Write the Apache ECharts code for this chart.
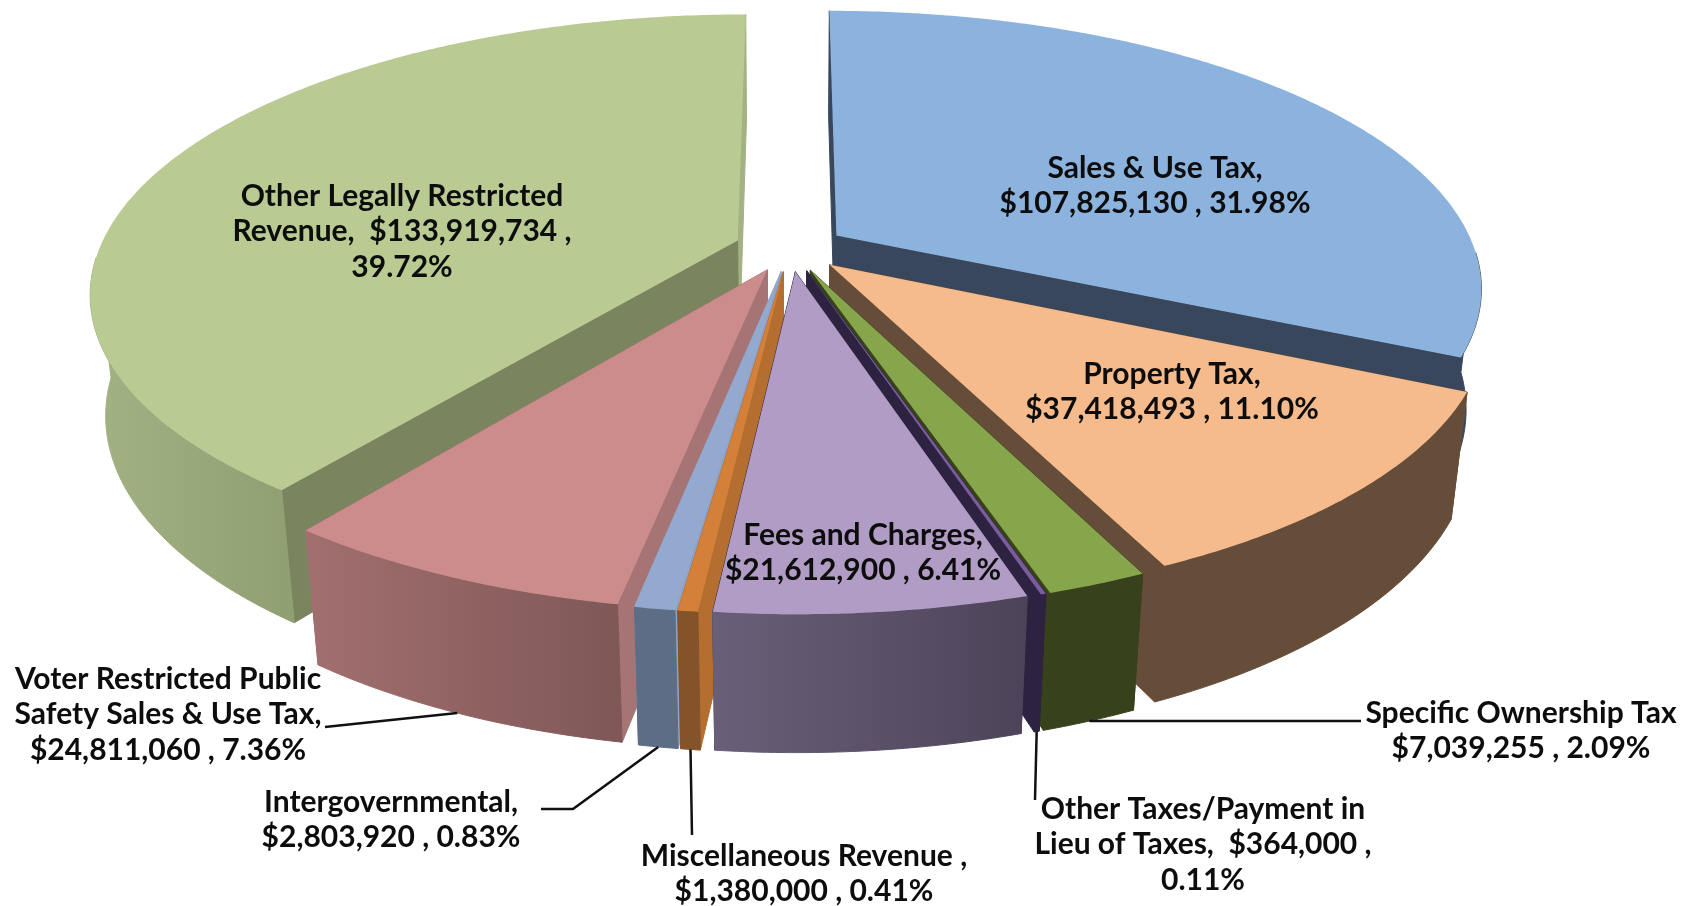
<!DOCTYPE html>
<html><head><meta charset="utf-8">
<style>html,body{margin:0;padding:0;background:#fff}#c{width:1696px;height:906px}</style>
<script src="https://cdn.jsdelivr.net/npm/echarts@6/dist/echarts.min.js"></script>
</head><body><div id="c"></div>
<script>
// ---- data ----
const categories = ['Sales & Use Tax','Property Tax','Specific Ownership Tax','Other Taxes/Payment in Lieu of Taxes','Fees and Charges','Miscellaneous Revenue','Intergovernmental','Voter Restricted Public Safety Sales & Use Tax','Other Legally Restricted Revenue'];
const amounts = [107825130,37418493,7039255,364000,21612900,1380000,2803920,24811060,133919734];
const percents = ['31.98%','11.10%','2.09%','0.11%','6.41%','0.41%','0.83%','7.36%','39.72%'];
const amountText = ['$107,825,130','$37,418,493','$7,039,255','$364,000','$21,612,900','$1,380,000','$2,803,920','$24,811,060','$133,919,734'];
const labelLines = [
 ['Sales & Use Tax,', amountText[0]+' , '+percents[0]],
 ['Property Tax,', amountText[1]+' , '+percents[1]],
 ['Specific Ownership Tax', amountText[2]+' , '+percents[2]],
 ['Other Taxes/Payment in','Lieu of Taxes,  '+amountText[3]+' ,',percents[3]],
 ['Fees and Charges,', amountText[4]+' , '+percents[4]],
 ['Miscellaneous Revenue ,', amountText[5]+' , '+percents[5]],
 ['Intergovernmental,', amountText[6]+' , '+percents[6]],
 ['Voter Restricted Public','Safety Sales & Use Tax,', amountText[7]+' , '+percents[7]],
 ['Other Legally Restricted','Revenue,  '+amountText[8]+' ,',percents[8]]
];
// ---- styles ----
const topColors = ['#8cb2de','#f6bb8c','#87a54a','#7b5d9f','#b09cc5','#d48039','#94a9cf','#cd8c8c','#b9ca92'];
const cutColors = ['#38475c','#654d3a','#37421c','#2d2240','#2d2240','#b46e30','#8fa3c6','#a67474','#7a8560'];
const wallLeft  = ['#38475c','#654d3a','#37421c','#2d2240','#6a5f78','#84532a','#5e6d86','#a26f6f','#a2b283'];
const wallRight = ['#38475c','#654d3a','#37421c','#2d2240','#4d4359','#84532a','#5e6d86','#7f5757','#8f9f72'];
// ---- layout (label centres, line height, leader ends) ----
const labelCentres = [[1155,168],[1172,374],[1521,713],[1203,809],[863,535],[804,856],[391,802],[168,679],[402,196]];
const lineHeight = 35.6;
const leaderEnds = [null,null,[[1361,721]],[[1035,800]],null,[[692,835]],[[573,809],[541,809]],[[325,727]],null];
const fontSpec = 'bold 30px Lato';
// ---- 3-D projection of the disc ----
const view = {cx:790, cy:248, R:638, Rb:270, H:122, p:0.183, q:0.022, explode:0.087};
function project(u,v,h){
  const s = 1/(1+view.p*v+view.q*h);
  return [view.cx+view.R*u*s, view.cy-view.Rb*v*s+view.H*h*s];
}
const total = amounts.reduce((a,b)=>a+b,0);
let acc = 0;
const slices = amounts.map(function(val,i){
  const a0 = acc/total*2*Math.PI; acc += val;
  const a1 = acc/total*2*Math.PI;
  return {i:i,a0:a0,a1:a1,mid:(a0+a1)/2};
});
// paint far slices first, the front slice last
const frontAngle = Math.PI*0.98;
const paintOrder = slices.slice().sort(function(a,b){
  return Math.abs(b.mid-frontAngle)-Math.abs(a.mid-frontAngle);
});
function rim(sl,a,h){
  const ex=view.explode*Math.sin(sl.mid), ey=view.explode*Math.cos(sl.mid);
  return project(ex+Math.sin(a),ey+Math.cos(a),h);
}
function apex(sl,h){
  return project(view.explode*Math.sin(sl.mid),view.explode*Math.cos(sl.mid),h);
}
function arcAngles(a0,a1){
  const n=Math.max(2,Math.ceil((a1-a0)/0.01)),out=[];
  for(let k=0;k<=n;k++)out.push(a0+(a1-a0)*k/n);
  return out;
}
function renderSlice(params){
  const sl = paintOrder[params.dataIndex], i=sl.i, kids=[];
  const face=function(a,col){
    kids.push({type:'polygon',shape:{points:[apex(sl,0),rim(sl,a,0),rim(sl,a,1),apex(sl,1)]},style:{fill:col,stroke:col,lineWidth:1}});
  };
  face(sl.a1,(i===8)?wallLeft[8]:cutColors[i]);
  face(sl.a0,cutColors[i]);
  // outer wall: the part of the rim facing the viewer (the top face hides any overlap)
  const aVis0=Math.acos(-view.p)-0.12, aVis1=2*Math.PI-aVis0;
  const w0=Math.max(sl.a0,aVis0), w1=Math.min(sl.a1,aVis1);
  if(w1>w0){
    const angs=arcAngles(w0,w1);
    const pts=angs.map(function(a){return rim(sl,a,0)}).concat(angs.slice().reverse().map(function(a){return rim(sl,a,1)}));
    const xs=pts.map(function(p){return p[0]});
    const grad=new echarts.graphic.LinearGradient(Math.min.apply(null,xs),0,Math.max.apply(null,xs),0,[{offset:0,color:wallLeft[i]},{offset:1,color:wallRight[i]}],true);
    kids.push({type:'polygon',shape:{points:pts},style:{fill:grad,stroke:grad,lineWidth:1}});
  }
  // top face
  const topPts=[apex(sl,0)].concat(arcAngles(sl.a0,sl.a1).map(function(a){return rim(sl,a,0)}));
  kids.push({type:'polygon',shape:{points:topPts},style:{fill:topColors[i]}});
  // leader line from the bottom of the wall to the label
  if(leaderEnds[i]){
    kids.push({type:'polyline',z2:50,shape:{points:[rim(sl,sl.mid,1)].concat(leaderEnds[i])},style:{stroke:'#111',lineWidth:2.5,fill:null}});
  }
  // label
  labelLines[i].forEach(function(t,k){
    kids.push({type:'text',z2:60,style:{text:t,x:labelCentres[i][0],y:labelCentres[i][1]+k*lineHeight,align:'center',verticalAlign:'middle',font:fontSpec,fill:'#0d0d0d'}});
  });
  return {type:'group',children:kids};
}
const chart = echarts.init(document.getElementById('c'),null,{renderer:'canvas'});
chart.setOption({
  backgroundColor:'#fff',
  animation:false,
  series:[{type:'custom',coordinateSystem:'none',silent:true,renderItem:renderSlice,
    data:paintOrder.map(function(s){return {name:categories[s.i],value:amounts[s.i]}})}]
});
</script></body></html>
